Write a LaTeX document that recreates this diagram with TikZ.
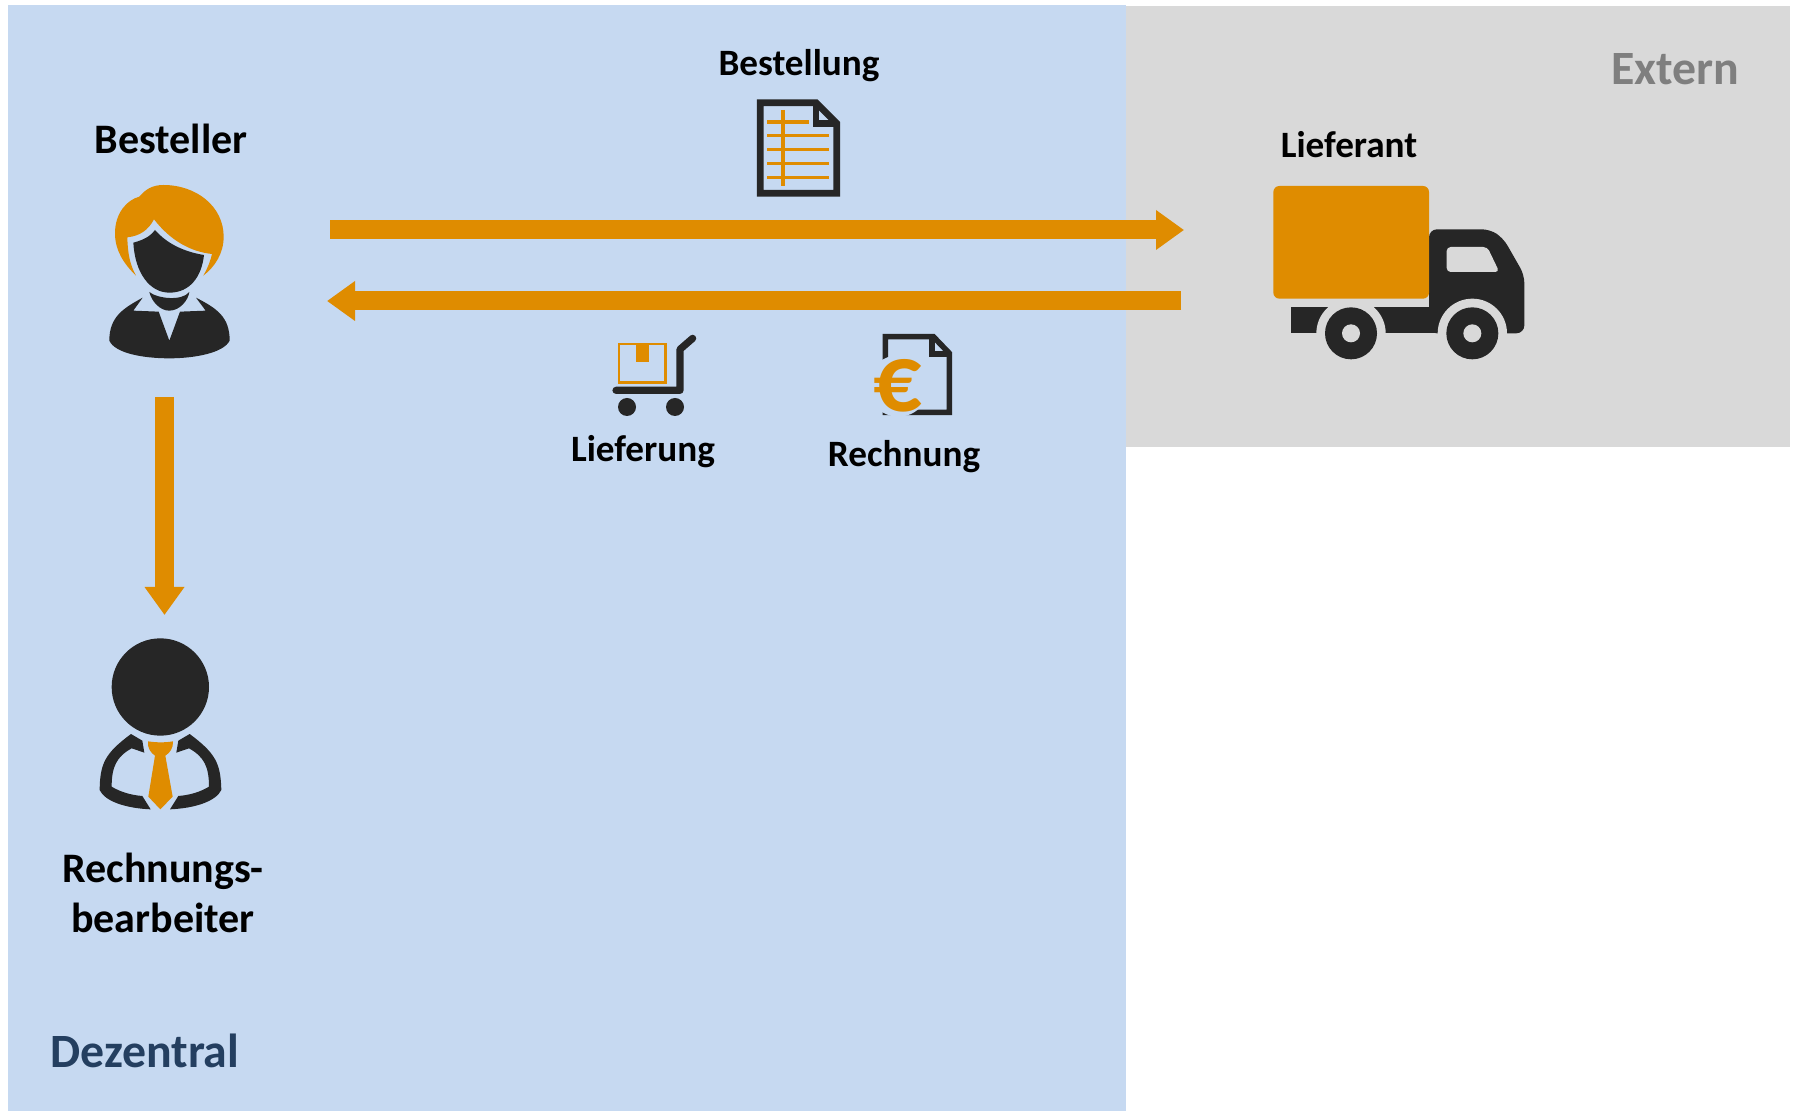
\documentclass[tikz,border=0pt]{standalone}
\usepackage{fontspec}
\setmainfont{Carlito}
\usetikzlibrary{
  arrows.meta,
}
\definecolor{panelblue}{HTML}{C6D9F1}
\definecolor{panelgrey}{HTML}{D9D9D9}
\definecolor{myorange}{HTML}{DF8C00}
\definecolor{mydark}{HTML}{262626}
\definecolor{mynavy}{HTML}{243F60}
\definecolor{mygrey}{HTML}{7F7F7F}
\newcommand{\labsize}{\fontsize{18.6pt}{22pt}\selectfont\bfseries}
\newcommand{\bigsize}{\fontsize{21pt}{22pt}\selectfont\bfseries}
\newcommand{\panelsize}{\fontsize{23.9pt}{28pt}\selectfont\bfseries}
\tikzset{
  font=\labsize,
  my label/.style={
    anchor=base,
    inner sep=0mm,
    text=black
  },
  my big label/.style={
    my label,
    font=\bigsize,
    align=center
  },
  my panel label/.style={
    anchor=base,
    inner sep=0mm,
    font=\panelsize
  },
  my arrow/.style={
    draw=myorange,
    line width=9.5pt,
    -{Triangle[length=14pt,width=19pt]}
  },
  dark/.style={
    fill=mydark,
    draw=none
  },
  orange/.style={
    fill=myorange,
    draw=none
  },
  % Icons are drawn in zoomed pixels, three of them to one pixel
  icon/.style={
    shift={#1},
    scale=1/3
  }
}

\begin{document}
\begin{tikzpicture}[x=0.5pt,y=-0.5pt]
\useasboundingbox (0,0) rectangle (1797,1111);
% Panels
\fill[panelblue] (8,5) rectangle (1126,1111);
\fill[panelgrey] (1126,6) rectangle (1790,447);
\node[my panel label,text=mygrey,anchor=base east] (extern) at (1740,85) {Extern};
\node[my panel label,text=mynavy,anchor=base west] (dezentral) at (50,1067) {Dezentral};
% Labels
\node[my big label] (besteller) at (171,154) {Besteller};
\node[my label] (bestellung) at (799,76) {Bestellung};
\node[my label] (lieferant) at (1349,158) {Lieferant};
\node[my label] (lieferung) at (643,462) {Lieferung};
\node[my label] (rechnung) at (904,467) {Rechnung};
\node[my big label,anchor=north,text depth=0pt] (bearbeiter) at (163,853)
  {Rechnungs-\\[3pt]bearbeiter};
% Connectors
\coordinate (orderstart) at (330,230);
\coordinate (orderend)   at (1184,230);
\coordinate (supplystart) at (1181,301);
\coordinate (supplyend)   at (327,301);
\coordinate (passstart) at (164.5,397);
\coordinate (passend)   at (164.5,615);
\draw[my arrow] (orderstart) -- (orderend);
\draw[my arrow] (supplystart) -- (supplyend);
\draw[my arrow] (passstart) -- (passend);
% Woman
\begin{scope}[icon={(60,100)}]
\fill[orange] (228,527) .. controls (190,490) and (165,450) .. (165,400)
  .. controls (165,340) and (200,300) .. (238,290)
  .. controls (255,270) and (275,255) .. (310,255)
  .. controls (410,255) and (491,320) .. (491,410)
  .. controls (491,460) and (465,500) .. (430,527)
  .. controls (445,500) and (452,480) .. (456,462)
  .. controls (390,455) and (330,420) .. (282,358)
  .. controls (265,390) and (240,408) .. (202,412)
  .. controls (203,460) and (210,495) .. (228,527) -- cycle;
\fill[dark] (220,428) .. controls (250,420) and (270,410) .. (285,390)
  .. controls (320,430) and (370,455) .. (432,465)
  .. controls (425,530) and (390,578) .. (328,578)
  .. controls (270,578) and (225,520) .. (220,428) -- cycle;
\fill[dark] (268,576) .. controls (290,595) and (365,605) .. (388,576)
  .. controls (385,600) and (360,632) .. (328,632)
  .. controls (300,632) and (275,605) .. (268,576) -- cycle;
\fill[dark] (248,593) -- (220,632) -- (296,635) -- (328,722) -- (360,635)
  -- (437,632) -- (408,593) .. controls (470,625) and (509,650) .. (509,722)
  .. controls (490,760) and (400,775) .. (328,775)
  .. controls (250,775) and (165,760) .. (148,722)
  .. controls (148,650) and (190,625) .. (248,593) -- cycle;
\end{scope}
% Man
\begin{scope}[icon={(60,620)}]
\fill[dark] (301,201) circle (146);
\fill[orange] (264,364) .. controls (290,368) and (315,368) .. (339,364)
  .. controls (340,385) and (330,398) .. (316,407) -- (338,530) -- (301,568)
  -- (265,530) -- (285,407) .. controls (272,398) and (262,385) .. (264,364) -- cycle;
\fill[dark] (213,342) -- (247,362) -- (253,398) -- (215,385)
  .. controls (170,410) and (155,440) .. (155,500)
  .. controls (180,515) and (210,525) .. (247,528)
  -- (272,568) .. controls (200,565) and (135,545) .. (119,510)
  .. controls (120,430) and (135,400) .. (213,342) -- cycle;
\fill[dark] (389,342) -- (355,362) -- (349,398) -- (387,385)
  .. controls (432,410) and (447,440) .. (447,500)
  .. controls (422,515) and (392,525) .. (355,528)
  -- (330,568) .. controls (402,565) and (467,545) .. (484,510)
  .. controls (482,430) and (467,400) .. (389,342) -- cycle;
\end{scope}
% Truck
\begin{scope}[icon={(1250,170)}]
\fill[dark] (122,412) rectangle (600,490);
\fill[dark,rounded corners=4pt] (537,490) -- (537,178) -- (720,178)
  -- (760,205) -- (823,315) -- (823,490) -- cycle;
\fill[panelgrey] (303,490) circle (104);
\fill[panelgrey] (667,490) circle (104);
\foreach \wheelx in {303,667} {
  \fill[dark] (\wheelx,490) circle (78);
  \fill[panelgrey] (\wheelx,490) circle (27);
}
\fill[panelgrey,rounded corners=2pt] (590,231) -- (712,231) -- (748,306) -- (590,306) -- cycle;
\fill[orange,rounded corners=3pt] (70,48) rectangle (537,386);
\end{scope}
% Cart
\begin{scope}[icon={(590,320)}]
\draw[myorange,line width=1.4pt] (87,72) rectangle (226,187);
\fill[orange] (138,72) rectangle (176,126);
\draw[mydark,line width=3.6pt,line cap=round,line join=round]
  (78,211) -- (270,211) -- (270,88) -- (308,55);
\fill[dark] (111,261) circle (27);
\fill[dark] (255,261) circle (27);
\end{scope}
% Invoice
\begin{scope}[icon={(590,320)}]
\draw[mydark,line width=2.8pt,line join=miter]
  (886,50) -- (1030,50) -- (1078,100) -- (1078,277) -- (886,277) -- cycle;
\draw[mydark,line width=2.8pt] (1026,50) -- (1026,102) -- (1078,102);
\fill[panelblue] (925,198) circle (92);
\node[anchor=center,inner sep=0mm,text=myorange,font=\fontsize{48pt}{48pt}\selectfont\bfseries] (euro) at (922,198) {€};
\end{scope}
% Order document
\begin{scope}[icon={(740,90)}]
\draw[mydark,line width=3.4pt,line join=miter]
  (61,38) -- (228,38) -- (290,100) -- (290,310) -- (61,310) -- cycle;
\draw[mydark,line width=3.4pt] (228,38) -- (228,100) -- (290,100);
\draw[myorange,line width=1.8pt] (82,96) -- (206,96);
\foreach \liney in {137,179,220,262} {
  \draw[myorange,line width=1.8pt] (82,\liney) -- (268,\liney);
}
\draw[myorange,line width=1.8pt] (129,60) -- (129,288);
\end{scope}
\end{tikzpicture}
\end{document}
